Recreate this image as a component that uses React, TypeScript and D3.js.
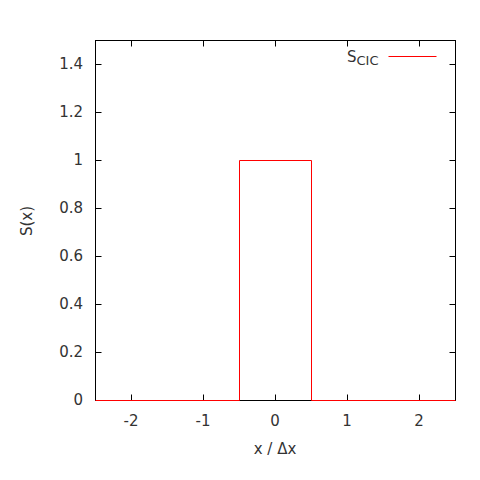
import React from "react";
import * as d3 from "d3";

const xs = [-2.5, -0.5, -0.5, 0.5, 0.5, 2.5];
const ys = [0, 0, 1, 1, 0, 0];
const xTicks = [-2, -1, 0, 1, 2];
const yTicks = [0, 0.2, 0.4, 0.6, 0.8, 1, 1.2, 1.4];
const seriesName = "CIC";

export default function App() {
  const W = 480, H = 480;
  const L = 95, R = 455, T = 40, B = 400;
  const x = d3.scaleLinear().domain([-2.5, 2.5]).range([L, R]);
  const y = d3.scaleLinear().domain([0, 1.5]).range([B, T]);
  const line = d3.line<number>().x((_, i) => x(xs[i])).y((d) => y(d));
  const tl = 6;
  const font = "'DejaVu Sans', sans-serif";
  const col = "#333";
  return (
    <svg width={W} height={H} style={{ position: "absolute", left: 0, top: 0, background: "#fff" }} fontFamily={font} fontSize={15}>
      <rect x={0} y={0} width={W} height={H} fill="#fff" />
      <g transform="translate(0.5,0.5)">
        {xTicks.map((t) => (
          <g key={"x" + t}>
            <line x1={x(t)} x2={x(t)} y1={B} y2={B - tl} stroke="#000" />
            <line x1={x(t)} x2={x(t)} y1={T} y2={T + tl} stroke="#000" />
          </g>
        ))}
        {yTicks.map((t) => (
          <g key={"y" + t}>
            <line x1={L} x2={L + tl} y1={y(t)} y2={y(t)} stroke="#000" />
            <line x1={R} x2={R - tl} y1={y(t)} y2={y(t)} stroke="#000" />
          </g>
        ))}
        <rect x={L} y={T} width={R - L} height={B - T} fill="none" stroke="#000" strokeWidth={1} />
        <path d={line(ys) || ""} fill="none" stroke="#ff0000" strokeWidth={1} />
        <line x1={388} x2={436} y1={56} y2={56} stroke="#ff0000" />
      </g>
      {xTicks.map((t) => (
        <text key={"xl" + t} x={x(t)} y={B + 26} textAnchor="middle" fill={col}>{t}</text>
      ))}
      {yTicks.map((t) => (
        <text key={"yl" + t} x={L - 12} y={y(t) + 5} textAnchor="end" fill={col}>{t}</text>
      ))}
      <text x={347} y={62} textAnchor="start" fill={col}>
        S<tspan dy={3} fontSize={13}>{seriesName}</tspan>
      </text>
      <text x={275} y={454} textAnchor="middle" fill={col}>x / Δx</text>
      <text transform={`translate(32,221) rotate(-90)`} textAnchor="middle" fill={col}>S(x)</text>
    </svg>
  );
}
